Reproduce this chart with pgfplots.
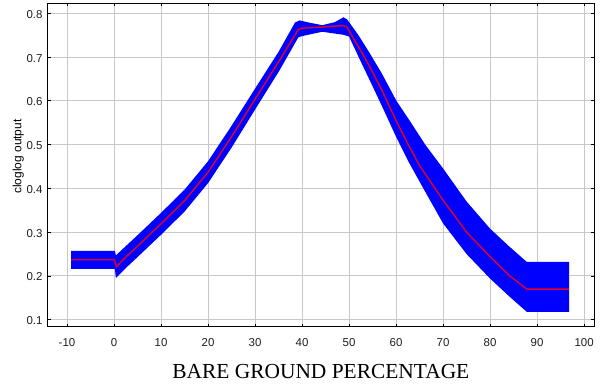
\documentclass[border=0pt]{standalone}
\usepackage{fontspec}
\setmainfont{Liberation Serif}
\setsansfont{Liberation Sans}
\usepackage{pgfplots}
\pgfplotsset{compat=1.18}
\usepgfplotslibrary{fillbetween}
\usepackage{pgfplotstable}

\definecolor{gridgray}{RGB}{200,200,200}
\definecolor{labelgray}{RGB}{30,30,30}
\definecolor{meanred}{RGB}{228,0,36}

% mean response
\pgfplotstableread{
x y
-9.1 0.237
0.1 0.237
0.5 0.221
2.5 0.243
5 0.268
10 0.319
15 0.372
20 0.437
25 0.518
30 0.604
35 0.689
39.2 0.763
40 0.766
44.5 0.769
48.8 0.772
49.5 0.769
52 0.724
54.4 0.678
57 0.624
60 0.555
62.6 0.500
65 0.452
68.3 0.400
70 0.373
75 0.300
80 0.244
84.2 0.200
87.8 0.170
96.8 0.170
}\meancurve

% mean + one standard deviation
\pgfplotstableread{
x y
-9.1 0.257
0.2 0.257
0.4 0.247
2.5 0.268
5 0.293
10 0.344
15 0.397
20 0.462
25 0.543
30 0.628
35 0.712
38.5 0.779
39.5 0.784
41 0.780
44.3 0.773
47 0.780
48.8 0.791
49.6 0.786
52 0.750
54.4 0.709
57 0.662
60 0.6015
63 0.553
66.2 0.500
70 0.4455
75 0.370
80 0.308
84 0.268
87.8 0.232
96.8 0.232
}\uppercurve

% mean - one standard deviation
\pgfplotstableread{
x y
-9.1 0.216
0.2 0.216
0.4 0.195
2.5 0.218
5 0.243
10 0.294
15 0.347
20 0.412
25 0.493
30 0.580
35 0.666
39.2 0.745
40 0.748
44.3 0.758
48.8 0.751
50 0.747
52 0.701
54.4 0.647
57 0.588
60 0.518
62.8 0.458
65.8 0.400
70 0.320
75 0.250
80 0.194
84 0.154
87.8 0.118
96.8 0.118
}\lowercurve

\begin{document}
\begin{tikzpicture}
\path (-47.7bp,-58.3bp) rectangle (556.3bp,326.7bp);
\begin{axis}[
  at={(0,0)}, anchor=south west,
  scale only axis, width=546.3bp, height=323.4bp,
  xmin=-14.1, xmax=102.1, ymin=0.084, ymax=0.823,
  xtick={-10,0,10,20,30,40,50,60,70,80,90,100},
  ytick={0.1,0.2,0.3,0.4,0.5,0.6,0.7,0.8},
  tick align=inside, major tick length=3bp,
  grid=major, major grid style={gridgray, line width=0.9bp},
  axis line style={black, line width=0.9bp},
  tick style={black, line width=0.8bp},
  /pgf/number format/assume math mode=true,
  /pgf/number format/fixed,
  /pgf/number format/precision=1,
  yticklabel style={font=\sffamily\fontsize{11.5}{12}\selectfont, text=labelgray,
    anchor=east, inner sep=0pt, xshift=-5bp, yshift=-1bp},
  xticklabel style={font=\sffamily\fontsize{11.5}{12}\selectfont, text=labelgray,
    anchor=base, inner sep=0pt, yshift=-19.8bp},
  xlabel={BARE GROUND PERCENTAGE},
  xlabel style={font=\fontsize{21.5}{24}\selectfont, at={(axis description cs:0.5,0)},
    anchor=base, yshift=-51.6bp, inner sep=0pt},
  ylabel={cloglog output},
  ylabel style={font=\sffamily\fontsize{12}{14}\selectfont,
    at={(axis description cs:-0.0538,0.526)}, anchor=center, inner sep=0pt},
]
\addplot[draw=none, name path=up, forget plot] table {\uppercurve};
\addplot[draw=none, name path=lo, forget plot] table {\lowercurve};
\addplot[fill=blue, draw=none] fill between[of=up and lo];
\addplot[meanred, line width=1.4bp] table {\meancurve};
\end{axis}
\end{tikzpicture}
\end{document}
